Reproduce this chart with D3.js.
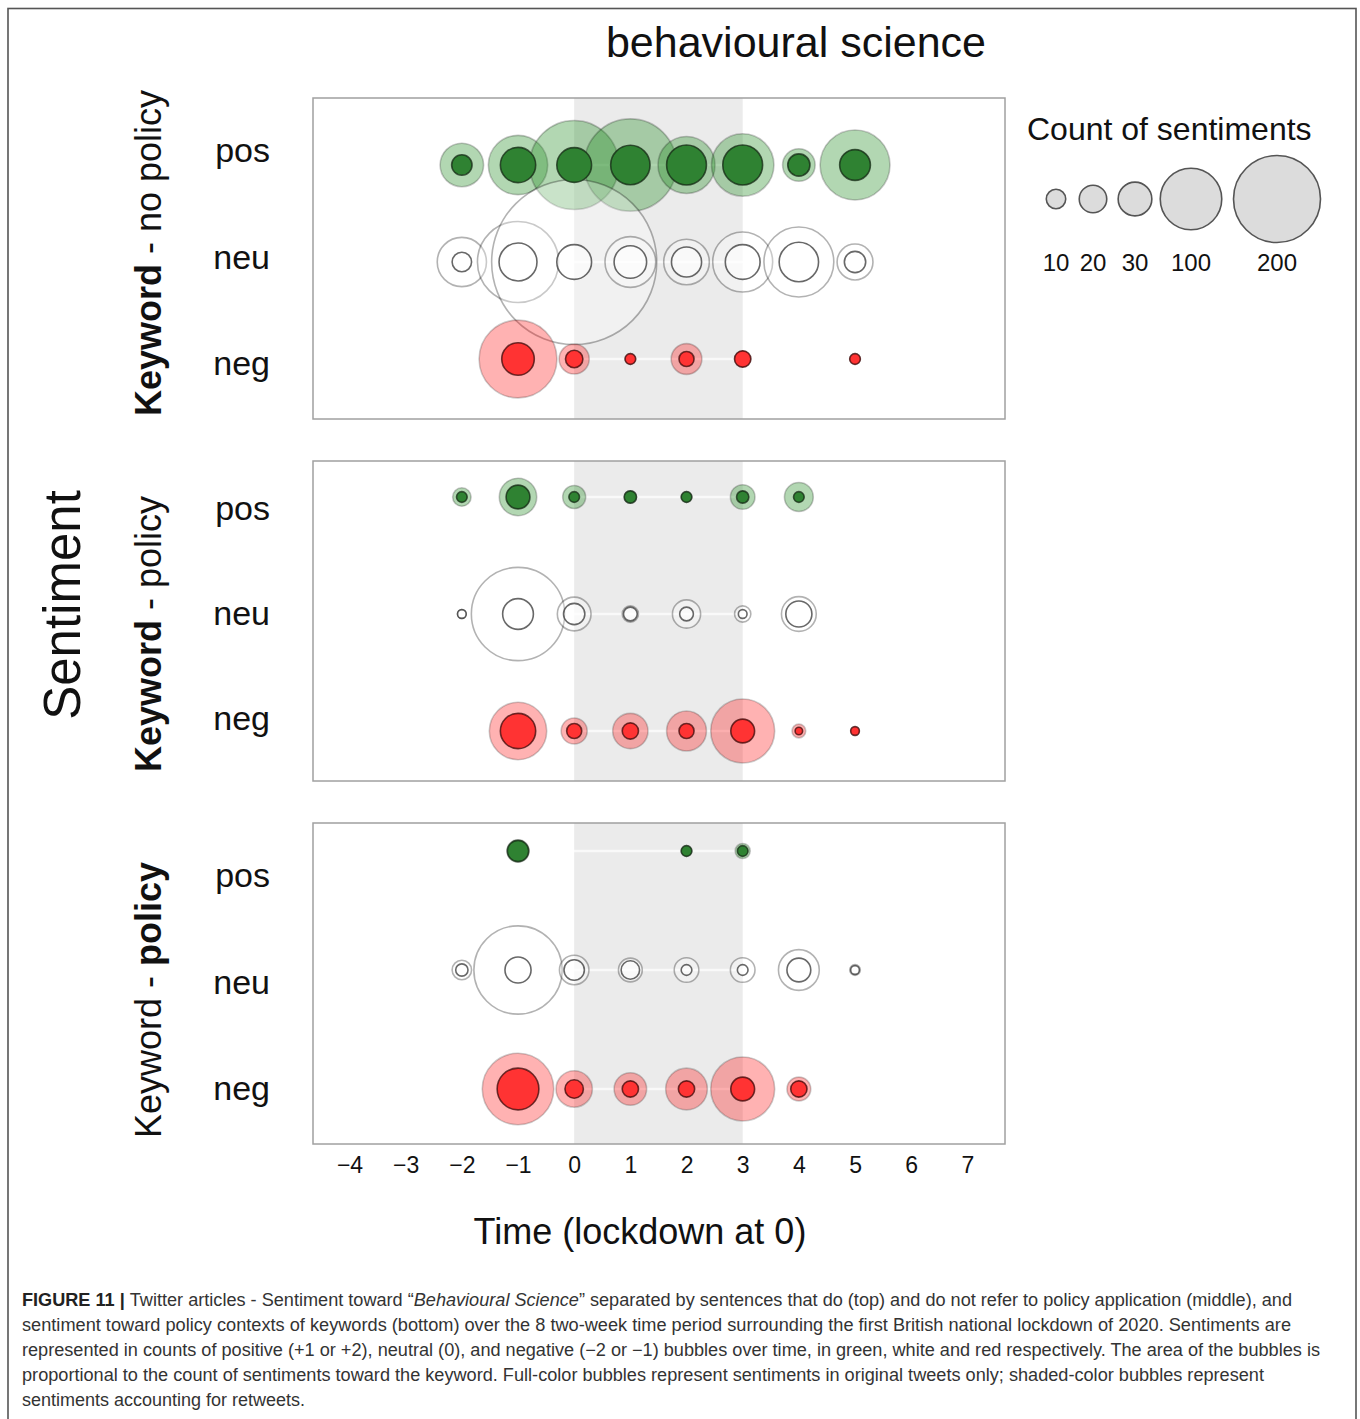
<!DOCTYPE html>
<html>
<head>
<meta charset="utf-8">
<script src="https://cdn.jsdelivr.net/npm/d3@7"></script>
<style>
  html, body { margin: 0; padding: 0; background: #fff; }
  svg { display: block; font-family: "Liberation Sans", Arial, Helvetica, sans-serif; }
</style>
</head>
<body>
<svg id="chart" width="1360" height="1419"></svg>
<script>
// Two-week periods relative to the first UK lockdown (0)
const periods = [-2, -1, 0, 1, 2, 3, 4, 5];
const sentiments = ["pos", "neu", "neg"];
const xTicks = [-4, -3, -2, -1, 0, 1, 2, 3, 4, 5, 6, 7];
const lockdownSpan = [0, 3];
const legendCounts = [10, 20, 30, 100, 200];

// Keyword - no policy: counts incl. retweets, and original tweets only
const noPolicyPosRetweets = [50, 93, 210, 225, 86, 103, 28, 129];
const noPolicyPosOriginal = [11, 33, 32, 41, 42, 42, 13, 25];
const noPolicyNeuRetweets = [64, 174, 720, 68, 55, 95, 129, 34];
const noPolicyNeuOriginal = [10, 38, 32, 28, 24, 32, 41, 12];
const noPolicyNegRetweets = [null, 160, 24, 3, 25, 7, null, 3];
const noPolicyNegOriginal = [null, 28, 8, 3, 6, 7, null, 3];

// Keyword - policy
const policyPosRetweets = [9, 37, 14, 4, 3, 16, 22, null];
const policyPosOriginal = [3, 15, 3, 4, 3, 4, 3, null];
const policyNeuRetweets = [2, 230, 30, 7, 21, 7, 32, null];
const policyNeuOriginal = [2, 25, 12, 5, 5, 2, 18, null];
const policyNegRetweets = [null, 87, 18, 33, 42, 108, 5, 2];
const policyNegOriginal = [null, 33, 6, 7, 6, 15, 1.5, 2];

// Policy contexts of keywords
const contextPosRetweets = [null, 13, null, null, 3, 6, null, null];
const contextPosOriginal = [null, 12, null, null, 3, 3, null, null];
const contextNeuRetweets = [10, 206, 23, 15, 16, 16, 44, 3];
const contextNeuOriginal = [4, 18, 11, 9, 3, 3, 15, 2];
const contextNegRetweets = [null, 135, 35, 28, 46, 108, 15, null];
const contextNegOriginal = [null, 46, 9, 7, 7, 15, 7, null];

const panelRows = [
  {pos: [noPolicyPosRetweets, noPolicyPosOriginal], neu: [noPolicyNeuRetweets, noPolicyNeuOriginal], neg: [noPolicyNegRetweets, noPolicyNegOriginal]},
  {pos: [policyPosRetweets, policyPosOriginal], neu: [policyNeuRetweets, policyNeuOriginal], neg: [policyNegRetweets, policyNegOriginal]},
  {pos: [contextPosRetweets, contextPosOriginal], neu: [contextNeuRetweets, contextNeuOriginal], neg: [contextNegRetweets, contextNegOriginal]}
];
const panelTitles = [
  [["Keyword", 700], [" - no policy", 400]],
  [["Keyword", 700], [" - policy", 400]],
  [["Keyword - ", 400], ["policy", 700]]
];

const captionLines = [
  [["FIGURE 11 | ", "bold"], ["Twitter articles - Sentiment toward \u201C", ""], ["Behavioural Science", "italic"], ["\u201D separated by sentences that do (top) and do not refer to policy application (middle), and", ""]],
  [["sentiment toward policy contexts of keywords (bottom) over the 8 two-week time period surrounding the first British national lockdown of 2020. Sentiments are", ""]],
  [["represented in counts of positive (+1 or +2), neutral (0), and negative (\u22122 or \u22121) bubbles over time, in green, white and red respectively. The area of the bubbles is", ""]],
  [["proportional to the count of sentiments toward the keyword. Full-color bubbles represent sentiments in original tweets only; shaded-color bubbles represent", ""]],
  [["sentiments accounting for retweets.", ""]]
];

// ---- layout ----
const panelLayout = [
  {top: 98,  bottom: 419,  rows: [165, 359], labels: [162, 375], titleY: 253},
  {top: 461, bottom: 781,  rows: [497, 731], labels: [520, 730], titleY: 634},
  {top: 823, bottom: 1144, rows: [851, 1089], labels: [887, 1100], titleY: 1000}
];
const plotLeft = 313, plotRight = 1005;

const style = {
  pos: {outer: "rgba(34,139,34,0.35)", outerStroke: "rgba(0,0,0,0.22)", inner: "#2f8232", innerStroke: "rgba(20,40,20,0.75)"},
  neu: {outer: "rgba(255,255,255,0.3)", outerStroke: "rgba(0,0,0,0.3)", inner: "rgba(255,255,255,0.55)", innerStroke: "rgba(40,40,40,0.7)"},
  neg: {outer: "rgba(255,0,0,0.3)", outerStroke: "rgba(0,0,0,0.2)", inner: "#ff3333", innerStroke: "rgba(60,10,10,0.75)"}
};

const svg = d3.select("#chart");

const x = d3.scaleLinear().domain([-4.65, 7.67]).range([plotLeft, plotRight]);
const r = d3.scaleSqrt().domain([0, 200]).range([0, 43.5]);

// figure frame
svg.append("rect").attr("x", 8).attr("y", 8.5).attr("width", 1348).attr("height", 1430)
  .attr("fill", "none").attr("stroke", "#555").attr("stroke-width", 1.6);

// title
svg.append("text").attr("x", 796).attr("y", 57).attr("text-anchor", "middle")
  .attr("font-size", 43).attr("fill", "#111").text("behavioural science");

// overall y label
svg.append("text").attr("transform", "translate(80,605) rotate(-90)").attr("text-anchor", "middle")
  .attr("font-size", 51).attr("fill", "#111").text("Sentiment");

panelLayout.forEach((lay, pi) => {
  const g = svg.append("g");
  const y = d3.scalePoint().domain(sentiments).range(lay.rows);
  const yLab = d3.scalePoint().domain(sentiments).range(lay.labels);

  // lockdown band
  g.append("rect").attr("x", x(lockdownSpan[0])).attr("y", lay.top)
    .attr("width", x(lockdownSpan[1]) - x(lockdownSpan[0])).attr("height", lay.bottom - lay.top)
    .attr("fill", "#ebebeb");

  const rows = panelRows[pi];

  // faint connector per row
  sentiments.forEach(s => {
    const present = periods.filter((p, i) => rows[s][0][i] != null);
    if (present.length > 1) {
      g.append("line").attr("x1", x(d3.min(present))).attr("x2", x(d3.max(present)))
        .attr("y1", y(s)).attr("y2", y(s))
        .attr("stroke", "#ffffff").attr("stroke-opacity", 0.7).attr("stroke-width", 2.5);
    }
  });

  // bubbles: retweet-inclusive (shaded) then original-only (full colour)
  sentiments.forEach(s => {
    const [all] = rows[s];
    const dAll = periods.map((p, i) => ({p, v: all[i]})).filter(d => d.v != null);
    g.selectAll(null).data(dAll).join("circle")
      .attr("cx", d => x(d.p)).attr("cy", y(s)).attr("r", d => r(d.v))
      .attr("fill", style[s].outer).attr("stroke", style[s].outerStroke).attr("stroke-width", 1.6);
  });
  sentiments.forEach(s => {
    const [, orig] = rows[s];
    const dOrig = periods.map((p, i) => ({p, v: orig[i]})).filter(d => d.v != null);
    g.selectAll(null).data(dOrig).join("circle")
      .attr("cx", d => x(d.p)).attr("cy", y(s)).attr("r", d => r(d.v))
      .attr("fill", style[s].inner).attr("stroke", style[s].innerStroke).attr("stroke-width", 1.6);
  });

  // panel border
  g.append("rect").attr("x", plotLeft).attr("y", lay.top)
    .attr("width", plotRight - plotLeft).attr("height", lay.bottom - lay.top)
    .attr("fill", "none").attr("stroke", "#a0a0a0").attr("stroke-width", 1.5);

  // row labels
  g.selectAll(null).data(sentiments).join("text")
    .attr("x", 270).attr("y", d => yLab(d)).attr("text-anchor", "end")
    .attr("font-size", 34).attr("fill", "#111").text(d => d);

  // panel title
  const t = g.append("text").attr("transform", `translate(161,${lay.titleY}) rotate(-90)`)
    .attr("text-anchor", "middle").attr("font-size", 36).attr("fill", "#111");
  panelTitles[pi].forEach(([txt, w]) => t.append("tspan").attr("font-weight", w).text(txt));
});

// x axis
const axis = d3.axisBottom(x).tickValues(xTicks).tickSize(0).tickPadding(0)
  .tickFormat(d => d < 0 ? "\u2212" + Math.abs(d) : String(d));
const ax = svg.append("g").attr("transform", "translate(0,1157)").call(axis);
ax.select(".domain").remove();
ax.selectAll("text").attr("font-size", 23).attr("fill", "#111")
  .attr("font-family", "'Liberation Sans', Arial, sans-serif").attr("dy", "0.71em");

svg.append("text").attr("x", 640).attr("y", 1244).attr("text-anchor", "middle")
  .attr("font-size", 36).attr("fill", "#111").text("Time (lockdown at 0)");

// size legend
svg.append("text").attr("x", 1027).attr("y", 140).attr("font-size", 32).attr("fill", "#111")
  .text("Count of sentiments");
const legendX = [1056, 1093, 1135, 1191, 1277];
const lg = svg.append("g");
lg.selectAll("circle").data(legendCounts).join("circle")
  .attr("cx", (d, i) => legendX[i]).attr("cy", 199).attr("r", d => r(d))
  .attr("fill", "#dcdcdc").attr("stroke", "#555").attr("stroke-width", 1.6);
lg.selectAll("text").data(legendCounts).join("text")
  .attr("x", (d, i) => legendX[i]).attr("y", 271).attr("text-anchor", "middle")
  .attr("font-size", 24).attr("fill", "#111").text(d => d);

// caption
const capWidths = [1270, 1269, 1298, 1242, 283];
captionLines.forEach((parts, li) => {
  const t = svg.append("text").attr("x", 22).attr("y", 1306 + li * 25)
    .attr("font-size", 17.5).attr("fill", "#333")
    .attr("textLength", capWidths[li]).attr("lengthAdjust", "spacingAndGlyphs");
  parts.forEach(([txt, st]) => {
    const sp = t.append("tspan").text(txt);
    if (st === "bold") sp.attr("font-weight", 700).attr("fill", "#222");
    if (st === "italic") sp.attr("font-style", "italic");
  });
});
</script>
</body>
</html>
